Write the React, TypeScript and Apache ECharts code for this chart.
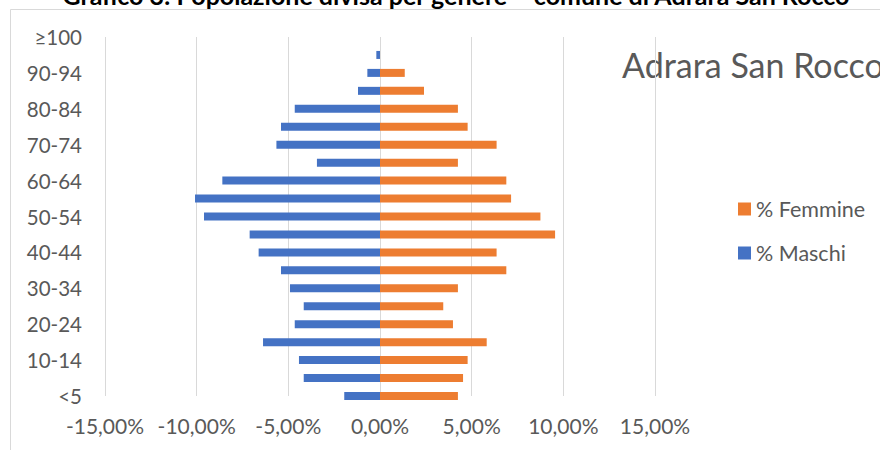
import React, { useEffect, useRef } from "react";
import * as echarts from "echarts";

const categories = [
  "<5", "5-9", "10-14", "15-19", "20-24", "25-29", "30-34", "35-39", "40-44", "45-49",
  "50-54", "55-59", "60-64", "65-69", "70-74", "75-79", "80-84", "85-89", "90-94", "95-99", "≥100",
];
const maschi = [
  1.95, 4.16, 4.42, 6.38, 4.65, 4.16, 4.91, 5.4, 6.62, 7.11,
  9.6, 10.09, 8.6, 3.44, 5.65, 5.4, 4.65, 1.2, 0.69, 0.2, 0,
];
const femmine = [
  4.25, 4.53, 4.78, 5.82, 3.98, 3.45, 4.25, 6.89, 6.36, 9.55,
  8.75, 7.15, 6.89, 4.25, 6.36, 4.78, 4.25, 2.4, 1.35, 0, 0,
];
const title = "Grafico 3: Popolazione divisa per genere – comune di Adrara San Rocco";
const subtitle = "Adrara San Rocco";

const FONT = "Lato, 'Open Sans', sans-serif";
const GREY = "#595959";

export default function App() {
  const ref = useRef<HTMLDivElement>(null);
  useEffect(() => {
    if (!ref.current) return;
    const chart = echarts.init(ref.current, null, { renderer: "svg" });
    chart.setOption({
      animation: false,
      textStyle: { fontFamily: FONT },
      grid: { left: 105, right: 225, top: 37, bottom: 54, containLabel: false },
      legend: {
        orient: "vertical",
        left: 733,
        top: 193,
        itemWidth: 13,
        itemHeight: 13,
        itemGap: 22,
        itemTextGap: 6,
        icon: "rect",
        data: ["% Femmine", "% Maschi"],
        textStyle: { color: GREY, fontSize: 21.5, fontFamily: FONT },
      },
      xAxis: {
        type: "value",
        min: -15,
        max: 15,
        interval: 5,
        axisLine: { show: false },
        axisTick: { show: false },
        splitLine: { lineStyle: { color: "#d9d9d9", width: 1 } },
        axisLabel: {
          color: GREY,
          fontSize: 21,
          margin: 19,
          formatter: (v: number) => v.toFixed(2).replace(".", ",") + "%",
        },
      },
      yAxis: [
        {
          type: "category",
          data: categories,
          boundaryGap: false,
          axisLine: { show: false },
          axisTick: { show: false },
          axisLabel: { color: GREY, fontSize: 20.5, interval: 1, margin: 23 },
        },
        {
          type: "category",
          data: categories,
          boundaryGap: false,
          position: "right",
          offset: 275,
          axisLine: { show: true, lineStyle: { color: "#d0d0d0", width: 1.5 } },
          axisTick: { show: true, inside: true, length: 6, interval: 0, lineStyle: { color: "#d0d0d0", width: 1.5 } },
          axisLabel: { show: false },
          splitLine: { show: false },
        },
      ],
      series: [
        {
          name: "% Femmine",
          type: "bar",
          data: femmine,
          barWidth: 8,
          barGap: "-100%",
          clip: true,
          itemStyle: { color: "#ED7D31" },
        },
        {
          name: "% Maschi",
          type: "bar",
          data: maschi.map((v) => -v),
          barWidth: 8,
          barGap: "-100%",
          clip: true,
          itemStyle: { color: "#4472C4" },
        },
      ],
      graphic: [
        {
          type: "rect",
          shape: { x: 10.5, y: 9.5, width: 900, height: 500 },
          style: { fill: "none", stroke: "#d9d9d9", lineWidth: 1 },
          silent: true,
        },
        {
          type: "text",
          x: 456,
          y: 7,
          style: {
            text: title,
            fill: "#000",
            font: `bold 25px ${FONT}`,
            textAlign: "center",
            textVerticalAlign: "bottom",
          },
        },
        {
          type: "text",
          x: 622,
          y: 64,
          style: {
            text: subtitle,
            fill: GREY,
            font: `34px ${FONT}`,
            textAlign: "left",
            textVerticalAlign: "middle",
          },
        },
      ],
    });
    return () => chart.dispose();
  }, []);
  return (
    <div
      ref={ref}
      style={{ position: "absolute", left: 0, top: 0, width: 880, height: 450 }}
    />
  );
}
